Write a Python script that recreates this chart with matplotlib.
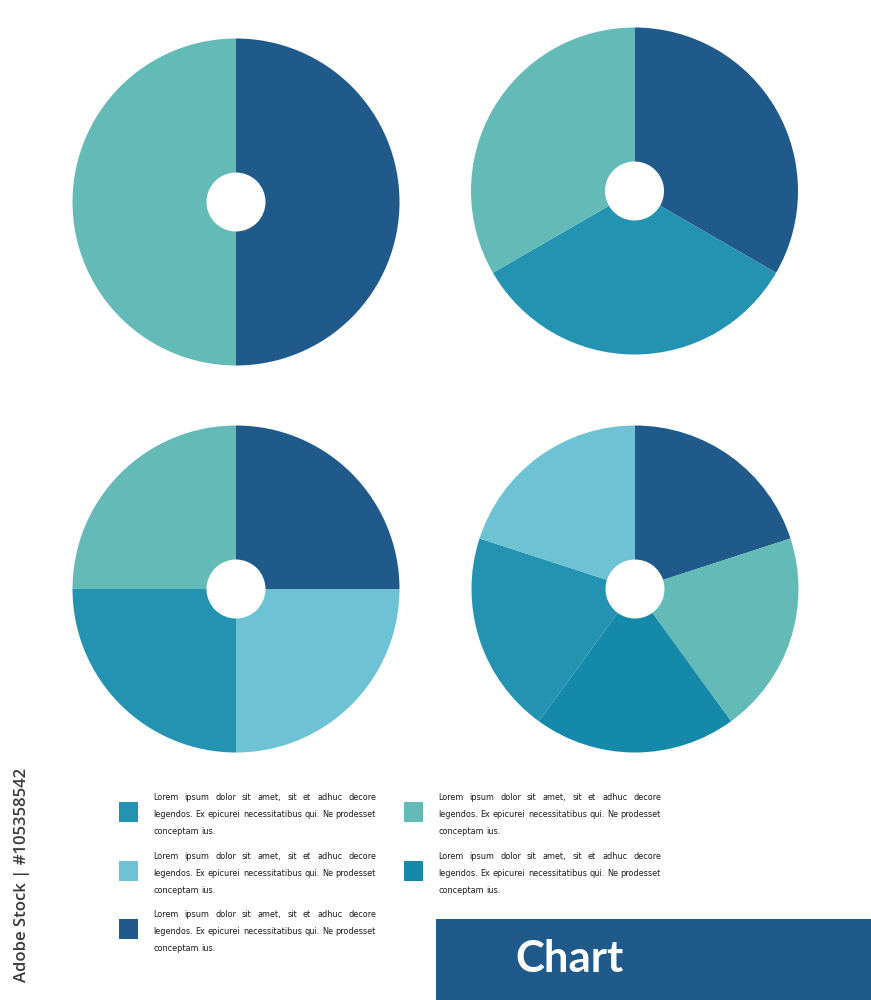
import matplotlib
matplotlib.use('Agg')
import matplotlib.pyplot as plt
from matplotlib import font_manager
from matplotlib.font_manager import FontProperties
from matplotlib.patches import Rectangle

# palette
DARK = '#1f5a8a'
TEAL = '#64bab6'
MID = '#2493b1'
LIGHT = '#6dc2d3'
DEEP = '#1589a9'

# four donut charts, equal slices, drawn clockwise from 12 o'clock
pie1_values = [1, 1]
pie1_colors = [DARK, TEAL]
pie2_values = [1, 1, 1]
pie2_colors = [DARK, MID, TEAL]
pie3_values = [1, 1, 1, 1]
pie3_colors = [DARK, LIGHT, MID, TEAL]
pie4_values = [1, 1, 1, 1, 1]
pie4_colors = [DARK, TEAL, DEEP, MID, LIGHT]

legend_colors = [MID, LIGHT, DARK, TEAL, DEEP]
legend_lines = ['Lorem ipsum dolor sit amet, sit et adhuc decore',
                'legendos. Ex epicurei necessitatibus qui. Ne prodesset',
                'conceptam ius.']
title = 'Chart'
side_note = 'Adobe Stock | #105358542'

W, H = 871, 1000
fig = plt.figure(figsize=(W / 100, H / 100), dpi=100)
ax = fig.add_axes([0, 0, 1, 1])


def Y(y):
    # pixel row (from top) -> data y
    return H - y


R, HOLE = 163.5, 29.5
pies = [(pie1_values, pie1_colors, 236, 202),
        (pie2_values, pie2_colors, 634.5, 191),
        (pie3_values, pie3_colors, 236, 589),
        (pie4_values, pie4_colors, 635, 589)]
for vals, cols, cx, cy in pies:
    ax.pie(vals, colors=cols, startangle=90, counterclock=False,
           center=(cx, Y(cy)), radius=R,
           wedgeprops=dict(width=R - HOLE, linewidth=0, antialiased=True))

ax.set_xlim(0, W)
ax.set_ylim(0, H)
ax.set_aspect('auto')
ax.axis('off')

# look for a narrow / condensed sans for the legend text
narrow = None
for f in font_manager.fontManager.ttflist:
    nm = f.name
    if 'Mono' in nm or 'Serif' in nm:
        continue
    if f.style != 'normal' or f.weight not in (400, 'normal', 'regular'):
        continue
    if 'Narrow' in nm or 'Condensed' in nm or str(f.stretch) in ('condensed', 'semi-condensed', '75', '87'):
        narrow = FontProperties(fname=f.fname)
        break
if narrow is None:
    narrow = FontProperties(family='Roboto')

renderer = fig.canvas.get_renderer()
COLW = 223
MIN_GAP = 2.5


def word_widths(words, size):
    arts = [ax.text(0, 0, w, fontproperties=narrow, fontsize=size) for w in words]
    ws = [a.get_window_extent(renderer).width for a in arts]
    for a in arts:
        a.remove()
    return ws


# size the legend text so the longest line just fills the column
long_words = legend_lines[1].split()
base = sum(word_widths(long_words, 10))
legend_size = 10 * (COLW - MIN_GAP * (len(long_words) - 1)) / base


def justified(x0, y, text, justify=True):
    words = text.split()
    widths = word_widths(words, legend_size)
    if justify and len(words) > 1:
        gap = (COLW - sum(widths)) / (len(words) - 1)
    else:
        gap = MIN_GAP + 0.5
    x = x0
    for w, wd in zip(words, widths):
        ax.text(x, Y(y), w, fontproperties=narrow, fontsize=legend_size,
                color='#1a1a1a', va='baseline', ha='left')
        x += wd + gap


legend_pos = [(119, 812), (119, 871), (119, 929), (404, 812), (404, 871)]
for (sx, sy), col in zip(legend_pos, legend_colors):
    ax.add_patch(Rectangle((sx, Y(sy + 10)), 19, 20, color=col, lw=0))
    for k, line in enumerate(legend_lines):
        justified(sx + 34, sy - 12 + 17 * k, line, justify=(k < 2))

# title banner
ax.add_patch(Rectangle((436, 0), W - 436, Y(919), color=DARK, lw=0))
ax.text(515, Y(959), title, fontsize=31.5, family='Lato', weight='bold',
        color='white', ha='left', va='center')

ax.text(22, Y(875), side_note, fontsize=12, family='Open Sans',
        weight='semibold', color='#3a3a3a', rotation=90,
        ha='center', va='center')

fig.savefig('out.png', dpi=100, facecolor='white')
